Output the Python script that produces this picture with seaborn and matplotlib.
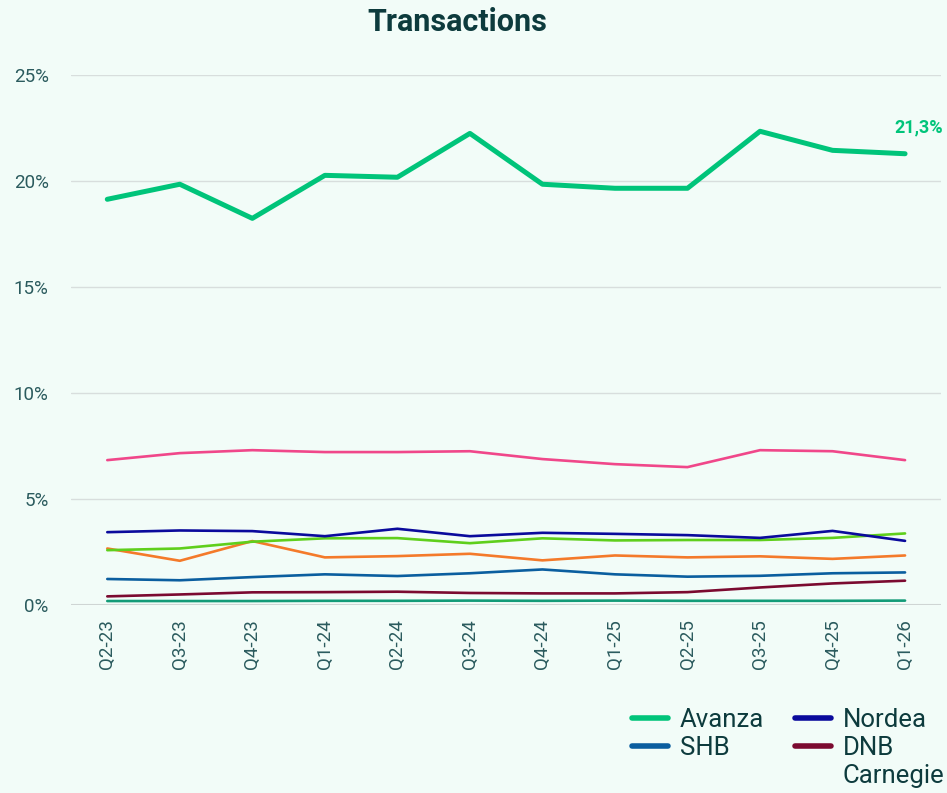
import numpy as np
import pandas as pd
import matplotlib.pyplot as plt
import seaborn as sns
from matplotlib.lines import Line2D

BG = "#f2fcf8"
DARK = "#0d3b3d"
TICK = "#2b5b5e"

quarters = ["Q2-23", "Q3-23", "Q4-23", "Q1-24", "Q2-24", "Q3-24",
            "Q4-24", "Q1-25", "Q2-25", "Q3-25", "Q4-25", "Q1-26"]

avanza = [19.15, 19.86, 18.25, 20.28, 20.19, 22.26, 19.86, 19.67, 19.67, 22.36, 21.46, 21.3]
pink = [6.84, 7.17, 7.31, 7.22, 7.22, 7.26, 6.89, 6.65, 6.51, 7.31, 7.26, 6.84]
nordea = [3.44, 3.52, 3.49, 3.25, 3.60, 3.25, 3.41, 3.36, 3.30, 3.17, 3.50, 3.03]
lime = [2.59, 2.67, 2.99, 3.15, 3.16, 2.92, 3.15, 3.05, 3.07, 3.07, 3.17, 3.38]
orange = [2.67, 2.09, 3.02, 2.25, 2.31, 2.42, 2.11, 2.34, 2.25, 2.30, 2.18, 2.34]
shb = [1.23, 1.17, 1.32, 1.45, 1.37, 1.50, 1.68, 1.45, 1.34, 1.38, 1.50, 1.54]
dnb = [0.41, 0.50, 0.60, 0.61, 0.63, 0.57, 0.55, 0.55, 0.61, 0.83, 1.02, 1.15]
teal = [0.19, 0.19, 0.19, 0.20, 0.20, 0.21, 0.20, 0.21, 0.20, 0.20, 0.20, 0.21]

# (name, values, colour, width)
series = [
    ("Teal", teal, "#139b78", 1.9),
    ("DNB", dnb, "#7b0a30", 1.9),
    ("SHB", shb, "#0b5e9f", 1.9),
    ("Orange", orange, "#f47a2a", 1.9),
    ("Lime", lime, "#5fcf1c", 1.9),
    ("Nordea", nordea, "#0a0a9c", 1.9),
    ("Pink", pink, "#f0478a", 1.9),
    ("Avanza", avanza, "#00c47a", 3.6),
]

sns.set_theme(style="white")
plt.rcParams["font.family"] = ["Roboto", "DejaVu Sans"]

fig = plt.figure(figsize=(9.47, 7.93), dpi=100, facecolor=BG)
ax = fig.add_axes([0.075, 0.237, 0.919, 0.668])
ax.set_facecolor(BG)

x = np.arange(len(quarters))
for name, vals, col, lw in series:
    sns.lineplot(x=x, y=vals, ax=ax, color=col, linewidth=lw,
                 solid_capstyle="round", solid_joinstyle="round", zorder=3)

ax.set_xlim(-0.5, len(quarters) - 0.5)
ax.set_ylim(0, 25)
ax.set_yticks([0, 5, 10, 15, 20, 25])
ax.set_yticklabels([f"{v}%" for v in [0, 5, 10, 15, 20, 25]])
ax.set_xticks(x)
ax.set_xticklabels(quarters, rotation=90)
ax.tick_params(axis="both", length=0, colors=TICK, labelsize=13.5)
ax.tick_params(axis="x", pad=10)
ax.tick_params(axis="y", pad=16)
ax.grid(axis="y", color="#d8dedd", linewidth=1)
ax.set_axisbelow(True)
for s in ax.spines.values():
    s.set_visible(False)
ax.axhline(0, color="#cfd5d4", linewidth=1.5, zorder=1)

ax.annotate(f"{avanza[-1]:.1f}%".replace(".", ","), xy=(x[-1], avanza[-1]),
            xytext=(10, 19), textcoords="offset points", ha="center", va="center",
            color="#00c47a", fontsize=13, fontweight="bold", annotation_clip=False)

fig.text(0.483, 0.972, "Transactions", ha="center", va="center",
         fontsize=22, fontweight="bold", color=DARK)

order = ["Avanza", "SHB", "Nordea", "DNB"]
lookup = {s[0]: s for s in series}
handles = [Line2D([], [], color=lookup[n][2], linewidth=4) for n in order]
leg = fig.legend(handles, order, loc="upper left", bbox_to_anchor=(0.667, 0.107),
                 ncol=2, frameon=False, fontsize=18.5, handlelength=1.4,
                 handletextpad=0.47, columnspacing=1.2, labelspacing=0.15,
                 borderaxespad=0, borderpad=0)
for t in leg.get_texts():
    t.set_color(DARK)

# "Carnegie" wraps onto its own line under DNB, like the original legend
fig.canvas.draw()
inv = fig.transFigure.inverted()
dnb_box = leg.get_texts()[3].get_window_extent()
shb_box = leg.get_texts()[1].get_window_extent()
avz_box = leg.get_texts()[0].get_window_extent()
step = avz_box.y0 - shb_box.y0
x0, y0 = inv.transform((dnb_box.x0, dnb_box.y0 - step))
fig.text(x0, y0, "Carnegie", ha="left", va="bottom", fontsize=18.5, color=DARK)

fig.savefig("out.png", dpi=100, facecolor=BG)
